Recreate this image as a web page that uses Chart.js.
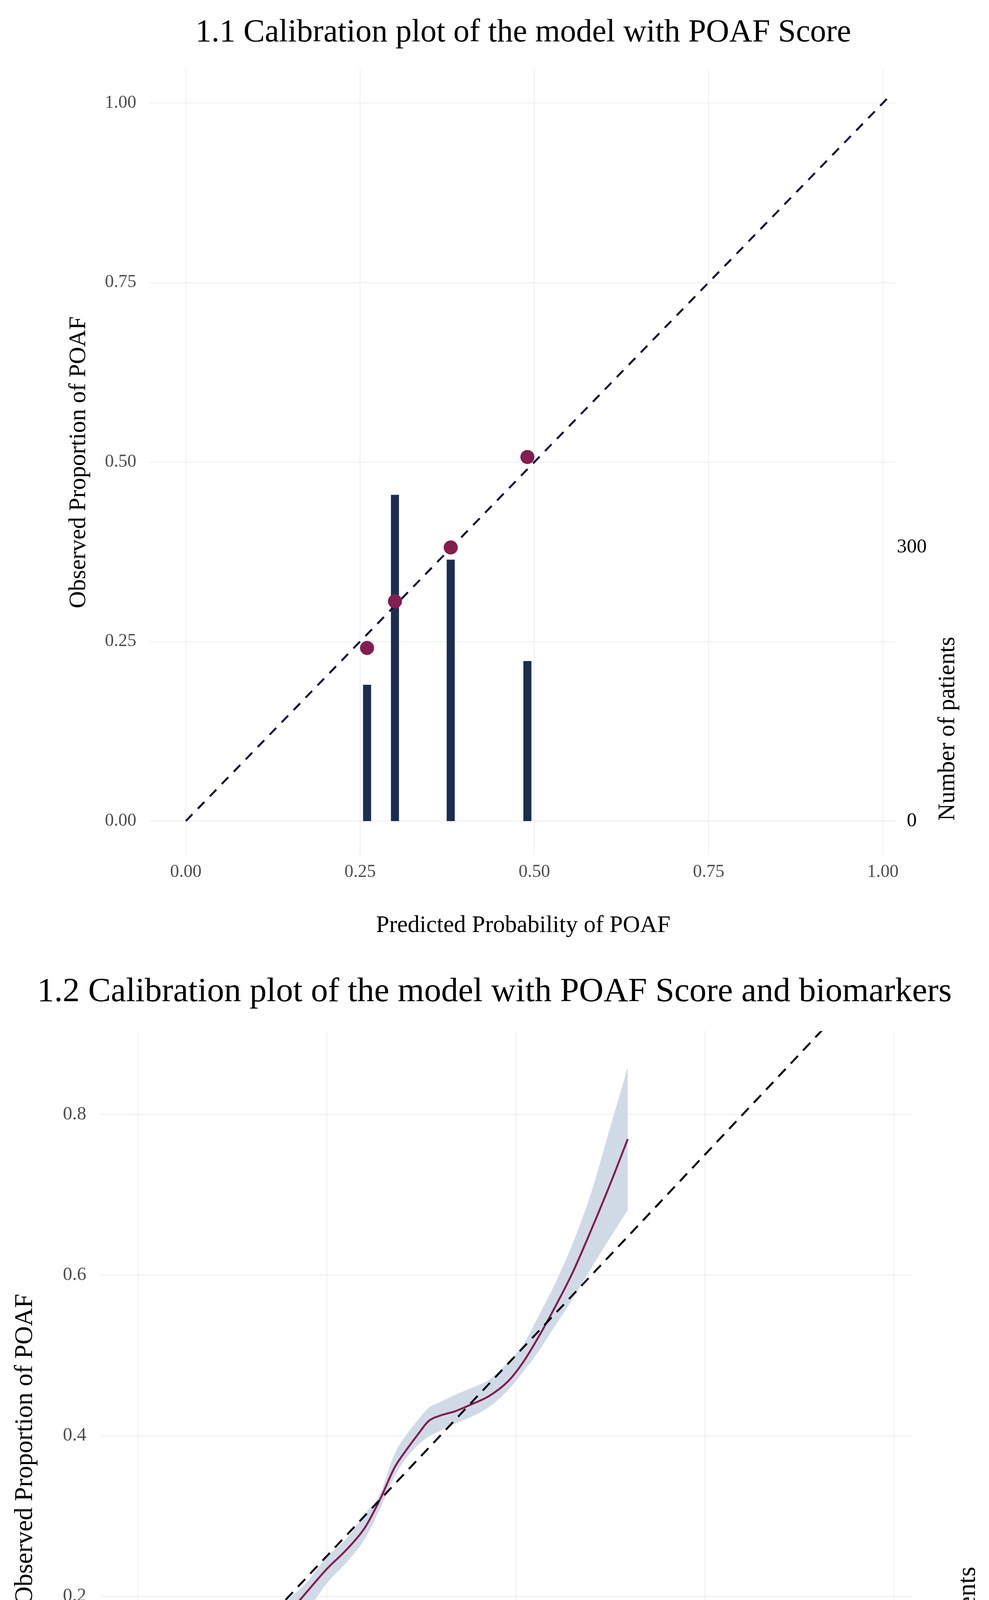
<!DOCTYPE html>
<html>
<head>
<meta charset="utf-8">
<title>Calibration plots</title>
<script src="https://cdn.jsdelivr.net/npm/chart.js@4.4.1/dist/chart.umd.min.js"></script>
<style>
    html, body { margin: 0; padding: 0; background: #ffffff; }
    .panel { position: absolute; left: 0; }
    #top { top: 0; }
    #bottom { top: 2420px; }
</style>
</head>
<body>
<div class="panel" id="top"><canvas id="chartTop" width="2532" height="2420" style="width:2532px;height:2420px"></canvas></div>
<div class="panel" id="bottom"><canvas id="chartBottom" width="2532" height="2564" style="width:2532px;height:2564px"></canvas></div>
<script>
// 1.1 grouped calibration (POAF Score only)
const topGroupX = [0.26, 0.30, 0.38, 0.49]
const topObserved = [0.241, 0.306, 0.381, 0.507]
const topPatients = [149, 357, 286, 175]
const topDiagonal = [0, 1.01]
const topXTicks = [0, 0.25, 0.5, 0.75, 1]
const topYTicks = [0, 0.25, 0.5, 0.75, 1]
const topPatientTicks = [0, 300]

// 1.2 smoothed calibration (POAF Score + biomarkers)
const histBinX = [0.0825, 0.0924, 0.1023, 0.1122, 0.1222, 0.1321, 0.1420, 0.1519, 0.1618, 0.1717,
    0.1817, 0.1916, 0.2015, 0.2114, 0.2213, 0.2313, 0.2412, 0.2511, 0.2610, 0.2709,
    0.2808, 0.2908, 0.3007, 0.3106, 0.3205, 0.3304, 0.3404, 0.3503, 0.3602, 0.3701,
    0.3800, 0.3900, 0.3999, 0.4098, 0.4197, 0.4296, 0.4395, 0.4495, 0.4594, 0.4693,
    0.4792, 0.4891, 0.4991, 0.5090, 0.5189, 0.5288, 0.5387, 0.5486, 0.5586, 0.5685,
    0.5784, 0.5883, 0.5982, 0.6082, 0.6181, 0.6280, 0.6379, 0.6478]
const histPatients = [0.3, 0.2, 0.9, 0.35, 0.2, 1.9, 4.4, 1.2, 2.4, 6.5,
    6.8, 11.9, 11.2, 11.7, 18.9, 20.3, 18.9, 31.7, 29.4, 26.9,
    45.1, 40.8, 38.9, 40.3, 25.8, 28.8, 38.9, 29.1, 36.2, 33.3,
    29.8, 23.6, 18.5, 23.8, 21.8, 21.6, 20.0, 20.2, 16.0, 16.2,
    7.3, 19.3, 16.6, 12.6, 10.3, 12.9, 11.4, 6.0, 6.7, 9.0,
    2.1, 4.3, 2.3, 4.7, 1.6, 0.2, 0, 0.9]
const curveX = [0.079, 0.10, 0.12, 0.14, 0.16, 0.18, 0.20, 0.225, 0.25, 0.275,
    0.30, 0.32, 0.34, 0.355, 0.37, 0.385, 0.40, 0.42, 0.44, 0.465,
    0.49, 0.51, 0.53, 0.55, 0.575, 0.60, 0.625, 0.648]
const curveObserved = [0.027, 0.054, 0.080, 0.105, 0.130, 0.155, 0.179, 0.207, 0.234, 0.257,
    0.285, 0.320, 0.361, 0.382, 0.401, 0.4185, 0.425, 0.4305, 0.4385, 0.4496,
    0.468, 0.492, 0.523, 0.557, 0.603, 0.657, 0.714, 0.7695]
const curveUpper = [0.147, 0.150, 0.156, 0.163, 0.171, 0.183, 0.197, 0.219, 0.249, 0.271,
    0.302, 0.327, 0.378, 0.401, 0.419, 0.435, 0.442, 0.451, 0.459, 0.470,
    0.492, 0.514, 0.549, 0.586, 0.639, 0.704, 0.785, 0.859]
const curveLower = [-0.092, -0.040, 0.008, 0.051, 0.084, 0.117, 0.144, 0.182, 0.216, 0.241,
    0.271, 0.308, 0.350, 0.372, 0.388, 0.399, 0.406, 0.415, 0.423, 0.436,
    0.457, 0.480, 0.505, 0.534, 0.570, 0.609, 0.647, 0.681]
const bottomDiagonal = [0, 1]
const bottomXTicks = [0, 0.25, 0.5, 0.75, 1]
const bottomYTicks = [0, 0.2, 0.4, 0.6, 0.8]
const bottomPatientTicks = [0, 50]

const serif = '"Liberation Serif", "Times New Roman", serif'
const gridColor = '#e3e8f0'
const navy = '#1c2e50'
const wine = '#821e50'
const bandColor = '#d0dae7'
const tickGray = '#4d4d4d'

Chart.defaults.font.family = serif
Chart.defaults.color = '#000000'

function pts(xs, ys) {
    return xs.map((x, i) => ({ x: x, y: ys[i] }))
}

function fixTicks(values) {
    return function (axis) {
        axis.ticks = values.map(v => ({ value: v }))
    }
}

// ggplot puts the secondary title bottom-to-top, Chart.js would flip it
const rightTitle = {
    id: 'rightTitle',
    afterDraw(chart, args, opts) {
        const ctx = chart.ctx
        const y2 = chart.scales.y2
        ctx.save()
        ctx.font = opts.size + 'px ' + serif
        ctx.fillStyle = '#000000'
        ctx.translate(chart.chartArea.right + opts.dx, y2.getPixelForValue(opts.center))
        ctx.rotate(-Math.PI / 2)
        ctx.textAlign = 'center'
        ctx.textBaseline = 'middle'
        ctx.fillText(opts.text, 0, 0)
        ctx.restore()
    }
}

function baseScales(cfg) {
    return {
        x: {
            type: 'linear',
            min: cfg.xMin, max: cfg.xMax,
            offset: false,
            afterBuildTicks: fixTicks(cfg.xTicks),
            afterFit: (axis) => { axis.height = cfg.xHeight },
            grid: { color: gridColor, lineWidth: 1.5, drawTicks: false, offset: false },
            border: { display: false },
            ticks: {
                padding: cfg.xTickPad, color: tickGray,
                font: { size: cfg.tickSize },
                callback: (v) => Number(v).toFixed(2),
                maxRotation: 0
            },
            title: {
                display: true, text: 'Predicted Probability of POAF',
                font: { size: cfg.titleSize }, color: '#000000',
                padding: { top: 0, bottom: cfg.xTitlePad }
            }
        },
        y: {
            type: 'linear', position: 'left',
            min: cfg.yMin, max: cfg.yMax,
            afterBuildTicks: fixTicks(cfg.yTicks),
            afterFit: (axis) => { axis.width = cfg.yWidth },
            grid: { color: gridColor, lineWidth: 1.5, drawTicks: false },
            border: { display: false },
            ticks: {
                padding: cfg.yTickPad, color: tickGray,
                font: { size: cfg.tickSize },
                callback: (v) => Number(v).toFixed(cfg.yDigits)
            },
            title: {
                display: true, text: 'Observed Proportion of POAF',
                font: { size: cfg.titleSize }, color: '#000000',
                padding: { top: cfg.yTitlePad, bottom: 0 }
            }
        },
        y2: {
            type: 'linear', position: 'right',
            min: cfg.yMin * cfg.perUnit, max: cfg.yMax * cfg.perUnit,
            afterBuildTicks: fixTicks(cfg.patientTicks),
            afterFit: (axis) => { axis.width = cfg.y2Width },
            grid: { display: false, drawTicks: false },
            border: { display: false },
            ticks: {
                padding: cfg.y2TickPad, color: '#000000', crossAlign: 'center',
                font: { size: cfg.y2TickSize },
                callback: (v) => String(Math.round(v))
            }
        }
    }
}

// ---- 1.1 ----
new Chart(document.getElementById('chartTop'), {
    type: 'scatter',
    data: {
        datasets: [
            {
                type: 'scatter',
                data: pts(topGroupX, topObserved),
                pointRadius: 18, pointHoverRadius: 18,
                backgroundColor: wine, borderWidth: 0,
                order: 1
            },
            {
                type: 'line',
                data: pts(topDiagonal, topDiagonal),
                borderColor: '#0c0c38', borderWidth: 5, borderDash: [24, 20],
                pointRadius: 0, fill: false,
                order: 2
            },
            {
                type: 'bar',
                data: pts(topGroupX, topPatients),
                yAxisID: 'y2',
                backgroundColor: navy, borderWidth: 0,
                barThickness: 20,
                order: 3
            }
        ]
    },
    plugins: [rightTitle],
    options: {
        responsive: false,
        animation: false,
        devicePixelRatio: 1,
        layout: { padding: 0 },
        scales: baseScales({
            xMin: -0.052, xMax: 1.02, yMin: -0.048, yMax: 1.047,
            perUnit: 786,
            xTicks: topXTicks, yTicks: topYTicks, patientTicks: topPatientTicks,
            xHeight: 230, yWidth: 383, y2Width: 236,
            xTickPad: 15, yTickPad: 34, y2TickPad: 0,
            tickSize: 46, y2TickSize: 51, titleSize: 61,
            xTitlePad: 13, yTitlePad: 165, yDigits: 2
        }),
        plugins: {
            legend: { display: false },
            tooltip: { enabled: false },
            title: {
                display: true,
                text: '1.1 Calibration plot of the model with POAF Score',
                font: { size: 82, weight: 'normal' },
                color: '#000000',
                fullSize: false,
                padding: { top: 35, bottom: 44 }
            },
            rightTitle: { text: 'Number of patients', size: 61, dx: 131, center: 101 }
        }
    }
})

// ---- 1.2 ----
new Chart(document.getElementById('chartBottom'), {
    type: 'scatter',
    data: {
        datasets: [
            {
                type: 'line',
                data: pts(bottomDiagonal, bottomDiagonal),
                borderColor: '#000000', borderWidth: 5, borderDash: [27, 19],
                pointRadius: 0, fill: false,
                order: 1
            },
            {
                type: 'line',
                data: pts(curveX, curveObserved),
                borderColor: wine, borderWidth: 5,
                cubicInterpolationMode: 'monotone',
                pointRadius: 0, fill: false,
                order: 2
            },
            {
                type: 'bar',
                data: pts(histBinX, histPatients),
                yAxisID: 'y2',
                backgroundColor: navy, borderWidth: 0,
                barPercentage: 1.02, categoryPercentage: 1,
                order: 3
            },
            {
                type: 'line',
                data: pts(curveX, curveUpper),
                borderWidth: 0, borderColor: 'rgba(0,0,0,0)',
                cubicInterpolationMode: 'monotone',
                pointRadius: 0, fill: false,
                order: 5
            },
            {
                type: 'line',
                data: pts(curveX, curveLower),
                borderWidth: 0, borderColor: 'rgba(0,0,0,0)',
                backgroundColor: bandColor,
                cubicInterpolationMode: 'monotone',
                pointRadius: 0, fill: '-1',
                order: 4
            }
        ]
    },
    plugins: [rightTitle],
    options: {
        responsive: false,
        animation: false,
        devicePixelRatio: 1,
        layout: { padding: 0 },
        scales: baseScales({
            xMin: -0.049, xMax: 1.0245, yMin: -0.138, yMax: 0.904,
            perUnit: 273.8,
            xTicks: bottomXTicks, yTicks: bottomYTicks, patientTicks: bottomPatientTicks,
            xHeight: 203, yWidth: 258, y2Width: 196,
            xTickPad: 20, yTickPad: 37, y2TickPad: 21,
            tickSize: 48, y2TickSize: 52, titleSize: 65,
            xTitlePad: 7, yTitlePad: 26, yDigits: 1
        }),
        plugins: {
            legend: { display: false },
            tooltip: { enabled: false },
            title: {
                display: true,
                text: '1.2 Calibration plot of the model with POAF Score and biomarkers',
                font: { size: 87, weight: 'normal' },
                color: '#000000',
                padding: { top: 68, bottom: 47 }
            },
            rightTitle: { text: 'Number of patients', size: 65, dx: 143, center: 31.4 }
        }
    }
})
</script>
</body>
</html>
